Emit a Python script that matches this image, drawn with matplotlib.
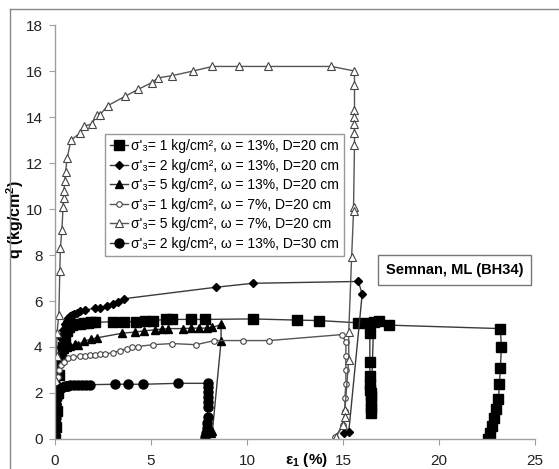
import numpy as np
import matplotlib
matplotlib.use('Agg')
import matplotlib.pyplot as plt
from matplotlib.lines import Line2D

plt.rcParams['font.family'] = ['Liberation Sans', 'DejaVu Sans']
plt.rcParams['mathtext.fontset'] = 'custom'
plt.rcParams['mathtext.rm'] = 'Liberation Sans'
plt.rcParams['mathtext.it'] = 'Liberation Sans'
plt.rcParams['mathtext.bf'] = 'Liberation Sans:bold'

# s3 = 1 kg/cm2, w = 13%, D = 20 cm (filled squares)
x1 = [0, 0.05, 0.1, 0.15, 0.2, 0.3, 0.4, 0.5, 0.6, 0.75, 0.9, 1.1, 1.3, 1.5, 1.7, 1.9, 2.1,
      3.0, 3.6, 4.2, 4.7, 5.1, 5.8, 6.1, 7.1, 7.8, 10.3, 12.6, 13.75, 15.8, 16.3,
      16.4, 16.4, 16.4, 16.4, 16.4, 16.45, 16.45, 16.45, 16.45, 16.45,
      16.6, 16.9, 17.4, 23.2, 23.25, 23.2, 23.15, 23.1, 22.95, 22.85, 22.75, 22.65, 22.55]
y1 = [0, 0.5, 1.2, 2.0, 2.8, 3.5, 4.0, 4.4, 4.7, 4.85, 4.95, 5.0, 5.02, 5.05, 5.05, 5.07, 5.07,
      5.1, 5.1, 5.1, 5.15, 5.15, 5.2, 5.2, 5.2, 5.2, 5.22, 5.17, 5.15, 5.05, 5.05,
      4.6, 3.35, 2.75, 2.4, 2.15, 2.0, 1.85, 1.55, 1.35, 1.15,
      5.1, 5.15, 4.95, 4.8, 4.0, 3.1, 2.4, 1.75, 1.3, 0.9, 0.55, 0.25, 0.0]

# s3 = 2 kg/cm2, w = 13%, D = 20 cm (filled diamonds)
x2 = [0, 0.02, 0.05, 0.08, 0.12, 0.16, 0.2, 0.25, 0.32, 0.4, 0.5, 0.6, 0.68, 0.8, 0.9, 1.0,
      1.15, 1.3, 1.56, 2.08, 2.34, 2.7, 3.0, 3.28, 3.6, 8.4, 10.3, 15.8, 16.0, 15.3, 15.05]
y2 = [0, 0.3, 0.8, 1.5, 2.2, 2.9, 3.5, 4.0, 4.4, 4.75, 5.0, 5.15, 5.25, 5.35, 5.4, 5.45,
      5.5, 5.55, 5.6, 5.7, 5.7, 5.78, 5.85, 5.97, 6.1, 6.6, 6.77, 6.85, 6.3, 0.3, 0.25]

# s3 = 5 kg/cm2, w = 13%, D = 20 cm (filled triangles)
x3 = [0, 0.02, 0.05, 0.08, 0.1, 0.13, 0.2, 0.3, 0.45, 0.6, 0.8, 1.04, 1.2, 1.5, 1.9, 2.2,
      3.5, 4.17, 4.64, 5.2, 5.57, 5.9, 6.67, 7.1, 7.5, 7.9, 8.2, 8.65, 8.65, 8.2, 8.1]
y3 = [0, 0.5, 1.2, 2.0, 2.5, 3.0, 3.4, 3.7, 3.9, 4.0, 4.05, 4.15, 4.1, 4.25, 4.35, 4.4,
      4.6, 4.65, 4.7, 4.75, 4.78, 4.8, 4.8, 4.82, 4.82, 4.82, 4.85, 4.98, 4.25, 0.35, 0.25]

# s3 = 1 kg/cm2, w = 7%, D = 20 cm (open circles)
x4 = [0, 0.05, 0.1, 0.12, 0.15, 0.2, 0.3, 0.45, 0.7, 0.95, 1.3, 1.56, 1.8, 2.08, 2.35, 2.6,
      3.0, 3.4, 3.75, 4.0, 4.3, 5.1, 6.1, 7.35, 8.3, 9.8, 11.15, 14.95,
      15.15, 15.15, 15.15, 15.15, 15.1, 15.1, 15.0, 14.6]
y4 = [0, 0.8, 1.6, 2.2, 2.7, 3.0, 3.2, 3.35, 3.5, 3.57, 3.6, 3.62, 3.64, 3.67, 3.68, 3.7,
      3.75, 3.84, 3.93, 4.0, 4.02, 4.1, 4.15, 4.1, 4.28, 4.28, 4.28, 4.54,
      4.2, 3.6, 3.0, 2.4, 1.8, 1.2, 0.6, 0.1]

# s3 = 5 kg/cm2, w = 7%, D = 20 cm (open triangles)
x5 = [0, 0.05, 0.08, 0.1, 0.2, 0.25, 0.28, 0.36, 0.42, 0.45, 0.47, 0.5, 0.55, 0.63, 0.83,
      1.3, 1.5, 1.93, 2.19, 2.34, 2.76, 3.65, 4.32, 5.05, 5.36, 6.1, 7.19, 8.2, 9.6, 11.1,
      14.4, 15.6, 15.6, 15.6, 15.6, 15.6, 15.6, 15.6, 15.55, 15.55, 15.45, 15.3, 15.3,
      15.1, 15.1, 15.0, 14.65]
y5 = [0, 2.5, 3.6, 4.6, 5.4, 7.3, 8.3, 9.1, 10.1, 10.5, 10.8, 11.2, 11.6, 12.2, 13.0,
      13.3, 13.6, 13.7, 14.1, 14.1, 14.5, 14.9, 15.2, 15.5, 15.7, 15.8, 16.0, 16.2, 16.2, 16.2,
      16.2, 16.0, 15.4, 14.3, 14.0, 13.7, 13.3, 12.8, 10.1, 9.9, 7.9, 4.67, 3.45,
      1.27, 0.96, 0.6, 0.1]

# s3 = 2 kg/cm2, w = 13%, D = 30 cm (filled circles)
x6 = [0, 0.0, 0.02, 0.03, 0.05, 0.07, 0.08, 0.1, 0.15, 0.2, 0.3, 0.4, 0.5, 0.6, 0.7, 0.8,
      1.0, 1.2, 1.4, 1.6, 1.8, 3.1, 3.8, 4.6, 6.4, 7.95,
      7.95, 7.95, 7.97, 7.97, 7.95, 7.95, 7.9, 7.9, 7.85, 7.8]
y6 = [0, 0.3, 0.6, 0.9, 1.2, 1.5, 1.8, 2.0, 2.1, 2.15, 2.2, 2.25, 2.3, 2.3, 2.32, 2.33,
      2.34, 2.35, 2.35, 2.36, 2.36, 2.38, 2.38, 2.38, 2.42, 2.42,
      2.27, 2.05, 1.83, 1.6, 1.4, 0.96, 0.7, 0.48, 0.26, 0.1]

labels = ["σ'₃= 1 kg/cm², ω = 13%, D=20 cm",
          "σ'₃= 2 kg/cm², ω = 13%, D=20 cm",
          "σ'₃= 5 kg/cm², ω = 13%, D=20 cm",
          "σ'₃= 1 kg/cm², ω = 7%, D=20 cm",
          "σ'₃= 5 kg/cm², ω = 7%, D=20 cm",
          "σ'₃= 2 kg/cm², ω = 13%, D=30 cm"]

fig = plt.figure(figsize=(5.59, 4.69), dpi=100)
ax = fig.add_axes([0.0984, 0.064, 0.8586, 0.8826])

lc = '#3a3a3a'
ax.plot(x1, y1, '-s', color=lc, lw=1, ms=6.5, mfc='black', mec='black', label=labels[0])
ax.plot(x2, y2, '-D', color=lc, lw=1, ms=4, mfc='black', mec='black', label=labels[1])
ax.plot(x3, y3, '-^', color=lc, lw=1, ms=6, mfc='black', mec='black', label=labels[2])
ax.plot(x4, y4, '-o', color='#555555', lw=1, ms=4, mfc='white', mec='#444444', mew=0.8, label=labels[3])
ax.plot(x5, y5, '-^', color='#555555', lw=1, ms=6, mfc='white', mec='#444444', mew=0.8, label=labels[4])
ax.plot(x6, y6, '-o', color=lc, lw=1, ms=6.5, mfc='black', mec='black', label=labels[5])

ax.set_xlim(0, 25)
ax.set_ylim(0, 18)
ax.set_xticks([0, 5, 10, 15, 20, 25])
ax.set_yticks(np.arange(0, 19, 2))
for s in ['top', 'right']:
    ax.spines[s].set_visible(False)
for s in ['left', 'bottom']:
    ax.spines[s].set_color('#a0a0a0')
    ax.spines[s].set_linewidth(1)
ax.tick_params(colors='#a0a0a0', labelcolor='#222222', length=4, labelsize=11)
ax.tick_params(axis='x', pad=6.5)
ax.tick_params(axis='y', pad=5)

ax.set_ylabel('q (kg/cm$^\\mathbf{2}$)', fontsize=11.5, fontweight='bold')
ax.yaxis.set_label_coords(-0.06, 0.53)
ax.text(0.523, -0.05, r'ε$_\mathbf{1}$ (%)', transform=ax.transAxes, fontsize=11,
        fontweight='bold', ha='center', va='center')

ax.text(20.8, 7.34, 'Semnan, ML (BH34)', fontsize=10.5, fontweight='bold',
        ha='center', va='center',
        bbox=dict(boxstyle='square,pad=0.55', fc='white', ec='#777777', lw=1))

leg = fig.legend(loc='upper left', bbox_to_anchor=(0.188, 0.714), fontsize=10,
                 frameon=True, fancybox=False, edgecolor='#999999', framealpha=1,
                 handlelength=1.3, handletextpad=0.2, labelspacing=0.4,
                 borderpad=0.35, borderaxespad=0)
leg.get_frame().set_linewidth(1)

# outer chart area border
fig.add_artist(Line2D([10 / 559, 1], [1 - 9 / 469, 1 - 9 / 469], color='#888888', lw=1))
fig.add_artist(Line2D([10 / 559, 10 / 559], [0, 1 - 9 / 469], color='#888888', lw=1))

fig.savefig('out.png', dpi=100)
